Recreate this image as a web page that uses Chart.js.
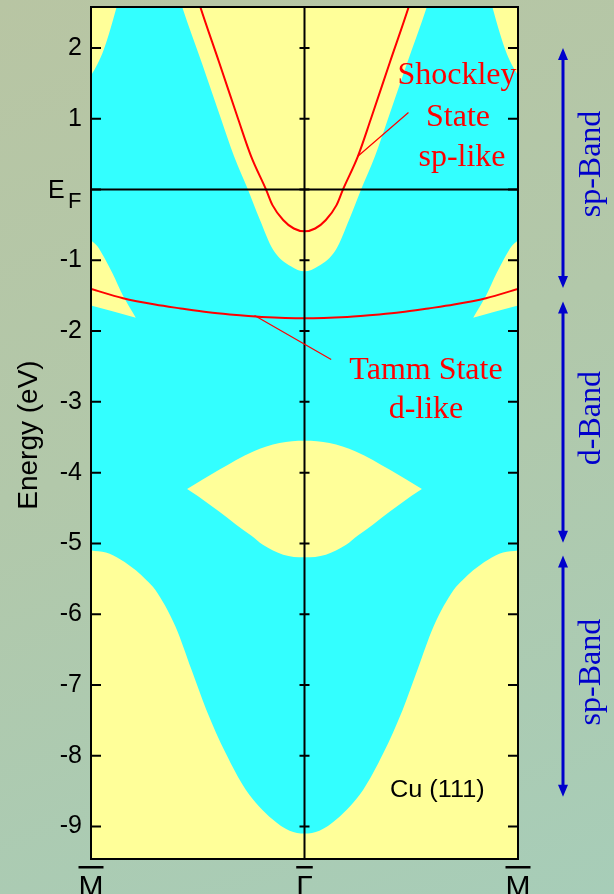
<!DOCTYPE html>
<html>
<head>
<meta charset="utf-8">
<script src="https://cdn.jsdelivr.net/npm/chart.js@4.4.0/dist/chart.umd.min.js"></script>
<style>
  html, body { margin: 0; padding: 0; }
  body {
    width: 614px; height: 894px; overflow: hidden;
    background: linear-gradient(160deg, #b8c5a3 0%, #b2c8aa 45%, #a7cdb8 100%);
  }
  #wrap { position: relative; width: 614px; height: 894px; }
</style>
</head>
<body>
<div id="wrap"><canvas id="bandChart" width="614" height="894"></canvas></div>
<script>
// Cu(111) projected bulk band structure with surface states

// axis ticks
const kTicks = [-1, 0, 1];
const kLabels = ['M', 'Γ', 'M'];
const energyTicks = [-9, -8, -7, -6, -5, -4, -3, -2, -1, 0, 1, 2];

// Shockley surface state (sp-like)
const shockleyK = [-0.50, -0.49, -0.40, -0.31, -0.25, -0.18, -0.15, -0.10, -0.05, 0, 0.05, 0.10, 0.15, 0.18, 0.25, 0.31, 0.40, 0.49, 0.50];
const shockleyE = [2.70, 2.60, 1.80, 0.99, 0.47, 0.00, -0.22, -0.43, -0.55, -0.59, -0.55, -0.43, -0.22, 0.00, 0.47, 0.99, 1.80, 2.60, 2.70];

// Tamm surface state (d-like)
const tammK = [-1, -0.85, -0.70, -0.58, -0.45, -0.35, -0.20, 0, 0.20, 0.35, 0.45, 0.58, 0.70, 0.85, 1];
const tammE = [-1.405, -1.535, -1.625, -1.68, -1.735, -1.765, -1.80, -1.82, -1.80, -1.765, -1.735, -1.68, -1.625, -1.535, -1.405];

// gaps in the projected bulk bands (yellow)
const gapK = [-0.585, -0.575, -0.48, -0.39, -0.33, -0.265, -0.21, -0.147, -0.064, 0, 0.064, 0.147, 0.21, 0.265, 0.33, 0.39, 0.48, 0.575, 0.585];
const gapE = [2.70, 2.60, 1.78, 0.99, 0.47, 0.00, -0.42, -0.85, -1.085, -1.156, -1.085, -0.85, -0.42, 0.00, 0.47, 0.99, 1.78, 2.60, 2.70];

const cornerLeftK = [-1, -0.97, -0.94, -0.915, -0.88, -0.87];
const cornerLeftE = [1.61, 1.77, 1.98, 2.21, 2.58, 2.70];
const cornerRightK = [0.87, 0.88, 0.915, 0.94, 0.97, 1];
const cornerRightE = [2.70, 2.58, 2.21, 1.98, 1.77, 1.61];

const wedgeLeftTopK = [-1, -0.97, -0.94, -0.90, -0.85, -0.79];
const wedgeLeftTopE = [-0.715, -0.80, -0.95, -1.18, -1.50, -1.81];
const wedgeLeftBotK = [-1, -0.79];
const wedgeLeftBotE = [-1.64, -1.81];
const wedgeRightTopK = [0.79, 0.85, 0.90, 0.94, 0.97, 1];
const wedgeRightTopE = [-1.81, -1.50, -1.18, -0.95, -0.80, -0.715];
const wedgeRightBotK = [0.79, 1];
const wedgeRightBotE = [-1.81, -1.64];

const lensTopK = [-0.55, -0.40, -0.24, -0.117, 0, 0.117, 0.24, 0.40, 0.55];
const lensTopE = [-4.23, -3.96, -3.70, -3.58, -3.548, -3.58, -3.70, -3.96, -4.23];
const lensBotK = [-0.55, -0.50, -0.40, -0.32, -0.25, -0.195, -0.10, 0, 0.10, 0.195, 0.25, 0.32, 0.40, 0.50, 0.55];
const lensBotE = [-4.23, -4.33, -4.55, -4.735, -4.89, -5.02, -5.16, -5.197, -5.16, -5.02, -4.89, -4.735, -4.55, -4.33, -4.23];

const bottomK = [-1, -0.93, -0.86, -0.79, -0.74, -0.70, -0.605, -0.53, -0.46, -0.37, -0.275, -0.15, -0.07, 0, 0.07, 0.15, 0.275, 0.37, 0.46, 0.53, 0.605, 0.70, 0.74, 0.79, 0.86, 0.93, 1];
const bottomE = [-5.10, -5.13, -5.23, -5.38, -5.52, -5.65, -6.17, -6.78, -7.35, -7.96, -8.48, -8.90, -9.06, -9.10, -9.06, -8.90, -8.48, -7.96, -7.35, -6.78, -6.17, -5.65, -5.52, -5.38, -5.23, -5.13, -5.10];

// band character ranges on the right (eV)
const bandNames = ['sp-Band', 'd-Band', 'sp-Band'];
const bandFrom = [2.00, -1.58, -5.17];
const bandTo = [-1.39, -4.99, -8.58];

const CYAN = '#33ffff';
const YELLOW = '#ffff99';
const RED = '#ff0000';
const BLUE = '#0000cc';
const SANS = "'Liberation Sans', Arial, sans-serif";
const SERIF = "'Liberation Serif', 'Times New Roman', serif";

function toPoints(ks, es) {
    return ks.map((k, i) => ({ x: k, y: es[i] }));
}

function gapSet(ks, es, fill) {
    return {
        data: toPoints(ks, es),
        borderWidth: 0,
        pointRadius: 0,
        backgroundColor: YELLOW,
        fill: fill,
        cubicInterpolationMode: 'monotone'
    };
}

function lineSet(ks, es, color, width) {
    return {
        data: toPoints(ks, es),
        borderColor: color,
        borderWidth: width,
        pointRadius: 0,
        fill: false,
        cubicInterpolationMode: 'monotone'
    };
}

// cyan plot background (bulk bands)
const bulkBackground = {
    id: 'bulkBackground',
    beforeDatasetsDraw(chart) {
        const { ctx, chartArea: a } = chart;
        ctx.save();
        ctx.fillStyle = CYAN;
        ctx.fillRect(a.left, a.top, a.right - a.left, a.bottom - a.top);
        ctx.restore();
    }
};

// frame, inward ticks, labels and annotations
const decorations = {
    id: 'decorations',
    afterDatasetsDraw(chart) {
        const { ctx, chartArea: a } = chart;
        const xs = chart.scales.x;
        const ys = chart.scales.y;
        const mid = xs.getPixelForValue(0);
        ctx.save();
        ctx.strokeStyle = '#000';
        ctx.lineWidth = 2;
        ctx.strokeRect(a.left, a.top, a.right - a.left, a.bottom - a.top);
        ctx.beginPath();
        energyTicks.forEach(v => {
            const y = ys.getPixelForValue(v);
            ctx.moveTo(a.left, y); ctx.lineTo(a.left + 10, y);
            ctx.moveTo(a.right - 10, y); ctx.lineTo(a.right, y);
            ctx.moveTo(mid - 5, y); ctx.lineTo(mid + 5, y);
        });
        ctx.stroke();

        // leader lines
        ctx.strokeStyle = RED;
        ctx.lineWidth = 1.2;
        ctx.beginPath();
        ctx.moveTo(xs.getPixelForValue(0.25), ys.getPixelForValue(0.47));
        ctx.lineTo(xs.getPixelForValue(0.487), ys.getPixelForValue(1.09));
        ctx.moveTo(xs.getPixelForValue(-0.234), ys.getPixelForValue(-1.78));
        ctx.lineTo(xs.getPixelForValue(0.125), ys.getPixelForValue(-2.40));
        ctx.stroke();

        // red annotations
        ctx.fillStyle = RED;
        ctx.font = '32px ' + SERIF;
        ctx.textAlign = 'center';
        ctx.textBaseline = 'alphabetic';
        ctx.fillText('Shockley', 457, 84);
        ctx.fillText('State', 458, 126);
        ctx.fillText('sp-like', 462, 166);
        ctx.fillText('Tamm State', 426, 379);
        ctx.fillText('d-like', 426, 418);

        // sample label (slightly wide lettering as in the slide)
        ctx.fillStyle = '#000';
        ctx.textAlign = 'left';
        ctx.save();
        ctx.translate(390, 797);
        ctx.scale(1.1, 1);
        ctx.font = '23px ' + SANS;
        ctx.fillText('Cu (111)', 0, 0);
        ctx.restore();
        ctx.restore();
    },
    afterDraw(chart) {
        const { ctx } = chart;
        const xs = chart.scales.x;
        const ys = chart.scales.y;
        ctx.save();

        // E_F label
        const yF = ys.getPixelForValue(0);
        ctx.fillStyle = '#000';
        ctx.textAlign = 'left';
        ctx.textBaseline = 'alphabetic';
        ctx.font = '25px ' + SANS;
        ctx.fillText('E', 48, yF + 8);
        ctx.font = '22px ' + SANS;
        ctx.fillText('F', 68, yF + 18);

        // y title
        ctx.save();
        ctx.translate(29, 435);
        ctx.rotate(-Math.PI / 2);
        ctx.textAlign = 'center';
        ctx.textBaseline = 'middle';
        ctx.font = '28px ' + SANS;
        ctx.fillText('Energy (eV)', 0, 0);
        ctx.restore();

        // overlines on k-point labels
        ctx.font = '30px ' + SANS;
        kTicks.forEach((v, i) => {
            const w = ctx.measureText(kLabels[i]).width;
            const x = xs.getPixelForValue(v);
            ctx.fillRect(x - w / 2, 866, w, 2.5);
        });

        // band character arrows
        const ax = 563;
        ctx.strokeStyle = BLUE;
        ctx.fillStyle = BLUE;
        ctx.lineWidth = 3;
        bandNames.forEach((name, i) => {
            const y1 = ys.getPixelForValue(bandFrom[i]);
            const y2 = ys.getPixelForValue(bandTo[i]);
            ctx.beginPath();
            ctx.moveTo(ax, y1 + 8);
            ctx.lineTo(ax, y2 - 8);
            ctx.stroke();
            ctx.beginPath();
            ctx.moveTo(ax, y1); ctx.lineTo(ax - 5, y1 + 12); ctx.lineTo(ax + 5, y1 + 12);
            ctx.closePath();
            ctx.moveTo(ax, y2); ctx.lineTo(ax - 5, y2 - 12); ctx.lineTo(ax + 5, y2 - 12);
            ctx.closePath();
            ctx.fill();

            ctx.save();
            ctx.translate(592, (y1 + y2) / 2 - 4);
            ctx.rotate(-Math.PI / 2);
            ctx.textAlign = 'center';
            ctx.textBaseline = 'middle';
            ctx.font = '32px ' + SERIF;
            ctx.fillText(name, 0, 0);
            ctx.restore();
        });
        ctx.restore();
    }
};

const ctx = document.getElementById('bandChart');

new Chart(ctx, {
    type: 'line',
    data: {
        datasets: [
            lineSet([-1, 1], [0, 0], '#000', 2),
            lineSet([0, 0], [-9.46, 2.58], '#000', 2),
            lineSet(shockleyK, shockleyE, RED, 2),
            lineSet(tammK, tammE, RED, 2),
            gapSet(gapK, gapE, 'end'),
            gapSet(cornerLeftK, cornerLeftE, 'end'),
            gapSet(cornerRightK, cornerRightE, 'end'),
            gapSet(wedgeLeftTopK, wedgeLeftTopE, '+1'),
            gapSet(wedgeLeftBotK, wedgeLeftBotE, false),
            gapSet(wedgeRightTopK, wedgeRightTopE, '+1'),
            gapSet(wedgeRightBotK, wedgeRightBotE, false),
            gapSet(lensTopK, lensTopE, '+1'),
            gapSet(lensBotK, lensBotE, false),
            gapSet(bottomK, bottomE, 'start')
        ]
    },
    options: {
        responsive: false,
        animation: false,
        events: [],
        layout: { padding: { top: 7, right: 96, left: 0, bottom: 0 } },
        plugins: {
            legend: { display: false },
            tooltip: { enabled: false }
        },
        scales: {
            x: {
                type: 'linear',
                min: -1,
                max: 1,
                afterFit(scale) {
                    scale.height = 35;
                    scale.paddingLeft = 0;
                    scale.paddingRight = 0;
                },
                afterBuildTicks(scale) { scale.ticks = kTicks.map(v => ({ value: v })); },
                ticks: {
                    callback: (value, index) => kLabels[index],
                    color: '#000',
                    font: { family: SANS, size: 30 },
                    padding: 11,
                    maxRotation: 0,
                    autoSkip: false
                },
                grid: { display: false, drawTicks: false },
                border: { display: false }
            },
            y: {
                type: 'linear',
                min: -9.46,
                max: 2.58,
                afterFit(scale) {
                    scale.width = 91;
                    scale.paddingTop = 0;
                    scale.paddingBottom = 0;
                },
                afterBuildTicks(scale) { scale.ticks = energyTicks.map(v => ({ value: v })); },
                ticks: {
                    callback: value => (value === 0 ? '' : String(value)),
                    color: '#000',
                    font: { family: SANS, size: 25 },
                    padding: 9
                },
                grid: { display: false, drawTicks: false },
                border: { display: false }
            }
        }
    },
    plugins: [bulkBackground, decorations]
});
</script>
</body>
</html>
